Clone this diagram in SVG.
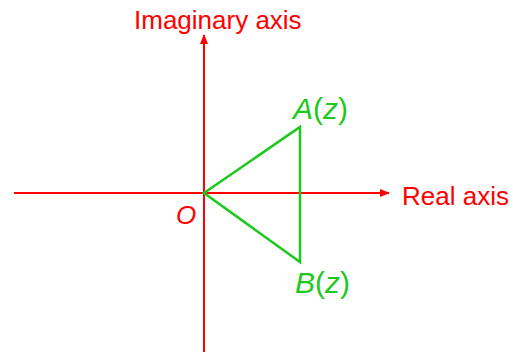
<svg xmlns="http://www.w3.org/2000/svg" width="513" height="352" viewBox="0 0 513 352">
<style>
.ax{stroke:#ff0000;stroke-width:2;fill:none}
.tri{stroke:#1ec81e;stroke-width:2.5;fill:none;stroke-linejoin:miter}
.lr{fill:#ff0000;font-family:"Liberation Sans",Arial,sans-serif;font-size:26px}
.lg{fill:#1ec81e;font-family:"Liberation Sans",Arial,sans-serif;font-size:30px}
</style>
<defs>
<marker id="ah" markerWidth="10" markerHeight="8" refX="9" refY="4" orient="auto" markerUnits="userSpaceOnUse">
<path d="M0,0 L10,4 L0,8 Z" fill="#ff0000"/>
</marker>
</defs>
<rect width="513" height="352" fill="#ffffff"/>
<g id="connectors">
<line class="ax" x1="204" y1="352" x2="204" y2="35" marker-end="url(#ah)"/>
<line class="ax" x1="14" y1="193" x2="389" y2="193" marker-end="url(#ah)"/>
</g>
<g id="triangle">
<path class="tri" d="M204,193 L300,127 L300,262 Z"/>
</g>
<g id="label-imag"><text class="lr" x="134" y="29">Imaginary axis</text></g>
<g id="label-real"><text class="lr" x="402" y="205">Real axis</text></g>
<g id="label-O"><text class="lr" x="176" y="224" font-size="30" font-style="italic">O</text></g>
<g id="label-A"><text class="lg" x="293" y="119"><tspan font-style="italic">A</tspan>(<tspan font-style="italic">z</tspan>)</text></g>
<g id="label-B"><text class="lg" x="295" y="293"><tspan font-style="italic">B</tspan>(<tspan font-style="italic">z</tspan>)</text></g>
</svg>
